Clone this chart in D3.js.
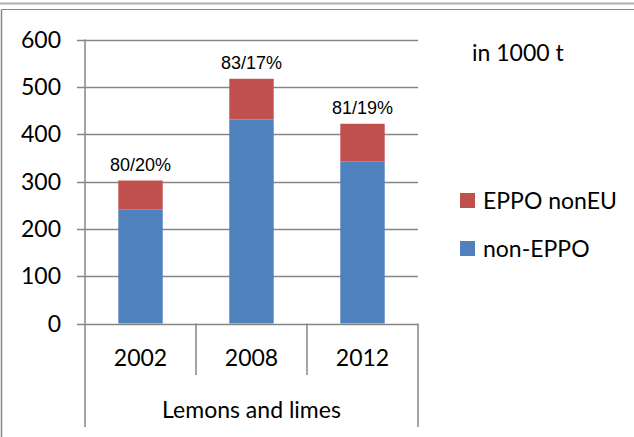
<!DOCTYPE html>
<html>
<head>
<meta charset="utf-8">
<script src="https://cdn.jsdelivr.net/npm/d3@7"></script>
<style>
  html, body { margin: 0; padding: 0; background: #fff; }
  svg { display: block; }
  .tick-label { font-family: Lato, "Open Sans", sans-serif; font-size: 23px; fill: #000; }
  .bar-label { font-family: "Liberation Sans Narrow", "Liberation Sans", Arial, sans-serif; font-size: 18px; fill: #000; }
</style>
</head>
<body>
<script>
  'use strict';

  // chart data, in 1000 t
  var years = ['2002', '2008', '2012'];
  var nonEppo = [241, 431, 342];
  var eppoNonEu = [61, 86, 80];
  var shareLabels = ['80/20%', '83/17%', '81/19%'];
  var yTicks = [0, 100, 200, 300, 400, 500, 600];
  var groupLabel = 'Lemons and limes';
  var unitLabel = 'in 1000 t';
  var seriesNames = ['EPPO nonEU', 'non-EPPO'];

  var width = 634,
      height = 437,
      plotLeft = 85,
      plotRight = 418,
      plotTop = 39.5,
      plotBottom = 323.5,
      blue = '#4f81bd',
      red = '#c0504d',
      gridColor = '#868686';

  var svg = d3.select('body').append('svg')
    .attr('width', width)
    .attr('height', height);

  // outer frame
  svg.append('line').attr('x1', 0).attr('x2', width).attr('y1', 3.5).attr('y2', 3.5)
    .attr('stroke', '#b0b0b0').attr('stroke-width', 2);
  svg.append('line').attr('x1', 1.5).attr('x2', width).attr('y1', 9.5).attr('y2', 9.5)
    .attr('stroke', gridColor);
  svg.append('line').attr('x1', 1.5).attr('x2', 1.5).attr('y1', 9.5).attr('y2', height)
    .attr('stroke', gridColor).attr('stroke-width', 1.5);

  var x = d3.scaleBand()
    .domain(years)
    .range([plotLeft, plotRight])
    .paddingInner(0.6)
    .paddingOuter(0.3);

  var xGroup = d3.scaleBand()
    .domain(years)
    .range([plotLeft, plotRight]);

  var y = d3.scaleLinear()
    .domain([0, 600])
    .range([plotBottom, plotTop]);

  // gridlines + y ticks
  svg.append('g')
    .selectAll('line')
    .data(yTicks)
    .enter()
    .append('line')
      .attr('x1', plotLeft - 8)
      .attr('x2', plotRight)
      .attr('y1', function (d) { return Math.round(y(d)) + 0.5; })
      .attr('y2', function (d) { return Math.round(y(d)) + 0.5; })
      .attr('stroke', gridColor)
      .attr('stroke-width', 1.5);

  svg.append('g')
    .selectAll('text')
    .data(yTicks)
    .enter()
    .append('text')
      .attr('class', 'tick-label')
      .attr('x', 61)
      .attr('y', function (d) { return y(d); })
      .attr('dy', '0.36em')
      .attr('text-anchor', 'end')
      .text(function (d) { return d; });

  // stacked bars
  var stack = years.map(function (yr, i) {
    return { year: yr, blue: nonEppo[i], red: eppoNonEu[i], label: shareLabels[i] };
  });

  var bars = svg.append('g');
  bars.selectAll('rect.blue')
    .data(stack)
    .enter()
    .append('rect')
      .attr('class', 'blue')
      .attr('x', function (d) { return x(d.year); })
      .attr('width', x.bandwidth())
      .attr('y', function (d) { return y(d.blue); })
      .attr('height', function (d) { return y(0) - y(d.blue); })
      .attr('fill', blue);

  bars.selectAll('rect.red')
    .data(stack)
    .enter()
    .append('rect')
      .attr('class', 'red')
      .attr('x', function (d) { return x(d.year); })
      .attr('width', x.bandwidth())
      .attr('y', function (d) { return y(d.blue + d.red); })
      .attr('height', function (d) { return y(d.blue) - y(d.blue + d.red); })
      .attr('fill', red);

  bars.selectAll('text')
    .data(stack)
    .enter()
    .append('text')
      .attr('class', 'bar-label')
      .attr('x', function (d) { return x(d.year) + x.bandwidth() / 2; })
      .attr('y', function (d) { return y(d.blue + d.red) - 10; })
      .attr('text-anchor', 'middle')
      .text(function (d) { return d.label; });

  // axes lines
  svg.append('line')
    .attr('x1', plotLeft).attr('x2', plotLeft)
    .attr('y1', plotTop).attr('y2', 427)
    .attr('stroke', gridColor).attr('stroke-width', 1.5);

  svg.append('g')
    .selectAll('line')
    .data(years.slice(1))
    .enter()
    .append('line')
      .attr('x1', function (d) { return xGroup(d); })
      .attr('x2', function (d) { return xGroup(d); })
      .attr('y1', plotBottom)
      .attr('y2', 375)
      .attr('stroke', gridColor)
      .attr('stroke-width', 1.5);

  svg.append('line')
    .attr('x1', plotRight).attr('x2', plotRight)
    .attr('y1', plotBottom).attr('y2', 427)
    .attr('stroke', gridColor).attr('stroke-width', 1.5);

  svg.append('g')
    .selectAll('text')
    .data(years)
    .enter()
    .append('text')
      .attr('class', 'tick-label')
      .attr('x', function (d) { return xGroup(d) + xGroup.bandwidth() / 2; })
      .attr('y', 358)
      .attr('dy', '0.36em')
      .attr('text-anchor', 'middle')
      .text(function (d) { return d; });

  svg.append('text')
    .attr('class', 'tick-label')
    .attr('x', (plotLeft + plotRight) / 2)
    .attr('y', 410)
    .attr('dy', '0.36em')
    .attr('text-anchor', 'middle')
    .text(groupLabel);

  svg.append('text')
    .attr('class', 'tick-label')
    .attr('x', 472)
    .attr('y', 53)
    .attr('dy', '0.36em')
    .text(unitLabel);

  // legend
  var legend = svg.append('g')
    .selectAll('g')
    .data(seriesNames)
    .enter()
    .append('g')
      .attr('transform', function (d, i) { return 'translate(460,' + (193 + i * 48) + ')'; });

  legend.append('rect')
    .attr('width', 15)
    .attr('height', 15)
    .attr('fill', function (d, i) { return i === 0 ? red : blue; });

  legend.append('text')
    .attr('class', 'tick-label')
    .attr('x', 23)
    .attr('y', 7.5)
    .attr('dy', '0.36em')
    .text(function (d) { return d; });
</script>
</body>
</html>
